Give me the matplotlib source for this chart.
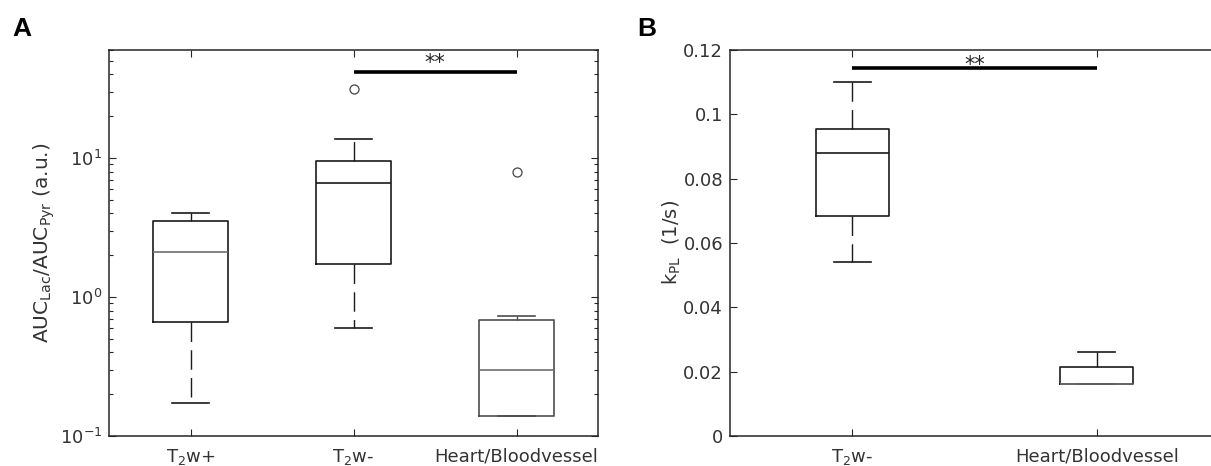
import matplotlib
matplotlib.use('Agg')
import matplotlib.pyplot as plt
from matplotlib.ticker import FixedLocator, FuncFormatter, LogLocator, NullFormatter

plt.rcParams['font.family'] = ['DejaVu Sans']
plt.rcParams['mathtext.default'] = 'regular'

# ---------------- Panel A data (AUC ratio, log scale) ----------------
a_labels = ['T$_2$w+', 'T$_2$w-', 'Heart/Bloodvessel']
a_whislo = [0.174, 0.603, 0.139]
a_q1 = [0.659, 1.72, 0.139]
a_med = [2.12, 6.67, 0.300]
a_q3 = [3.55, 9.56, 0.681]
a_whishi = [4.06, 13.7, 0.735]
a_fliers = [[], [31.4], [8.01]]
a_sig_groups = [2, 3]
a_sig_y = 41.6

# ---------------- Panel B data (kPL) ----------------
b_labels = ['T$_2$w-', 'Heart/Bloodvessel']
b_whislo = [0.0540, 0.0161]
b_q1 = [0.0684, 0.0161]
b_med = [0.0881, 0.0161]
b_q3 = [0.0953, 0.02145]
b_whishi = [0.1101, 0.0260]
b_fliers = [[], []]
b_sig_groups = [1, 2]
b_sig_y = 0.1143
b_yticks = [0, 0.02, 0.04, 0.06, 0.08, 0.1, 0.12]

W, H = 1211, 466
fig = plt.figure(figsize=(W / 100, H / 100), dpi=100)

axA = fig.add_axes([109 / W, 30 / H, 489 / W, 386 / H])
axB = fig.add_axes([730 / W, 30 / H, 489 / W, 386 / H])

txt_col = '#262626'
dash = (0, (14, 6))


def make_stats(whislo, q1, med, q3, whishi, fliers):
    return [dict(whislo=a, q1=b, med=c, q3=d, whishi=e, fliers=f)
            for a, b, c, d, e, f in zip(whislo, q1, med, q3, whishi, fliers)]


def style(ax, art, box_cols, med_cols):
    for i, b in enumerate(art['boxes']):
        b.set_color(box_cols[i])
        b.set_linewidth(1.2)
    for i, m in enumerate(art['medians']):
        m.set_color(med_cols[i])
        m.set_linewidth(1.2)
    for i, w in enumerate(art['whiskers']):
        w.set_color(box_cols[i // 2])
        w.set_linewidth(1.0)
        w.set_linestyle(dash)
    for i, c in enumerate(art['caps']):
        c.set_color(box_cols[i // 2])
        c.set_linewidth(1.2)
    for f in art['fliers']:
        f.set_marker('o')
        f.set_markersize(6.5)
        f.set_markerfacecolor('none')
        f.set_markeredgecolor('#444444')
        f.set_markeredgewidth(0.9)


def frame(ax):
    for s in ax.spines.values():
        s.set_color(txt_col)
        s.set_linewidth(1.1)
    ax.tick_params(which='both', direction='in', top=True, right=True,
                   colors=txt_col, labelcolor='#333333', width=0.8)
    ax.tick_params(which='major', length=5)
    ax.tick_params(which='minor', length=3)
    ax.tick_params(axis='x', labelsize=13, pad=8)
    ax.tick_params(axis='y', labelsize=13, pad=5)


# ---- Panel A ----
sA = make_stats(a_whislo, a_q1, a_med, a_q3, a_whishi, a_fliers)
artA = axA.bxp(sA, positions=[1, 2, 3], widths=0.46, showfliers=True)
style(axA, artA, ['#1a1a1a', '#1a1a1a', '#4d4d4d'], ['#6e6e6e', '#1a1a1a', '#6e6e6e'])
axA.set_yscale('log')
axA.set_ylim(0.1, 60)
axA.set_xlim(0.5, 3.5)
axA.set_xticks([1, 2, 3])
axA.set_xticklabels(a_labels)
axA.yaxis.set_major_locator(LogLocator(base=10, numticks=10))
axA.yaxis.set_minor_locator(LogLocator(base=10, subs=range(2, 10), numticks=20))
axA.yaxis.set_minor_formatter(NullFormatter())
frame(axA)
axA.plot(a_sig_groups, [a_sig_y, a_sig_y], color='black', lw=2.6, solid_capstyle='butt')
axA.annotate('**', xy=(sum(a_sig_groups) / 2, a_sig_y), xytext=(0, -1),
             textcoords='offset points', ha='center', va='bottom',
             fontsize=15, color=txt_col)
axA.set_ylabel('AUC$_{Lac}$/AUC$_{Pyr}$ (a.u.)', fontsize=14.5, color='#333333')
axA.yaxis.set_label_coords((57 - 109) / 489, 0.5)

# ---- Panel B ----
sB = make_stats(b_whislo, b_q1, b_med, b_q3, b_whishi, b_fliers)
artB = axB.bxp(sB, positions=[1, 2], widths=0.3, showfliers=False)
style(axB, artB, ['#1a1a1a', '#1a1a1a'], ['#1a1a1a', '#6e6e6e'])
axB.set_ylim(0, 0.12)
axB.set_xlim(0.5, 2.5)
axB.set_xticks([1, 2])
axB.set_xticklabels(b_labels)
axB.yaxis.set_major_locator(FixedLocator(b_yticks))
axB.yaxis.set_major_formatter(FuncFormatter(lambda v, p: '%g' % round(v, 4)))
frame(axB)
axB.plot(b_sig_groups, [b_sig_y, b_sig_y], color='black', lw=2.6, solid_capstyle='butt')
axB.annotate('**', xy=(sum(b_sig_groups) / 2, b_sig_y), xytext=(0, -5),
             textcoords='offset points', ha='center', va='bottom',
             fontsize=15, color=txt_col)
axB.set_ylabel('k$_{PL}$  (1/s)', fontsize=14, color='#333333')
axB.yaxis.set_label_coords((683 - 730) / 489, 0.5)

# panel letters
fig.text(12 / W, 1 - 36 / H, 'A', fontsize=19, fontweight='bold',
         family='Liberation Sans', color='black')
fig.text(637 / W, 1 - 36 / H, 'B', fontsize=19, fontweight='bold',
         family='Liberation Sans', color='black')

fig.savefig('out.png', dpi=100)
